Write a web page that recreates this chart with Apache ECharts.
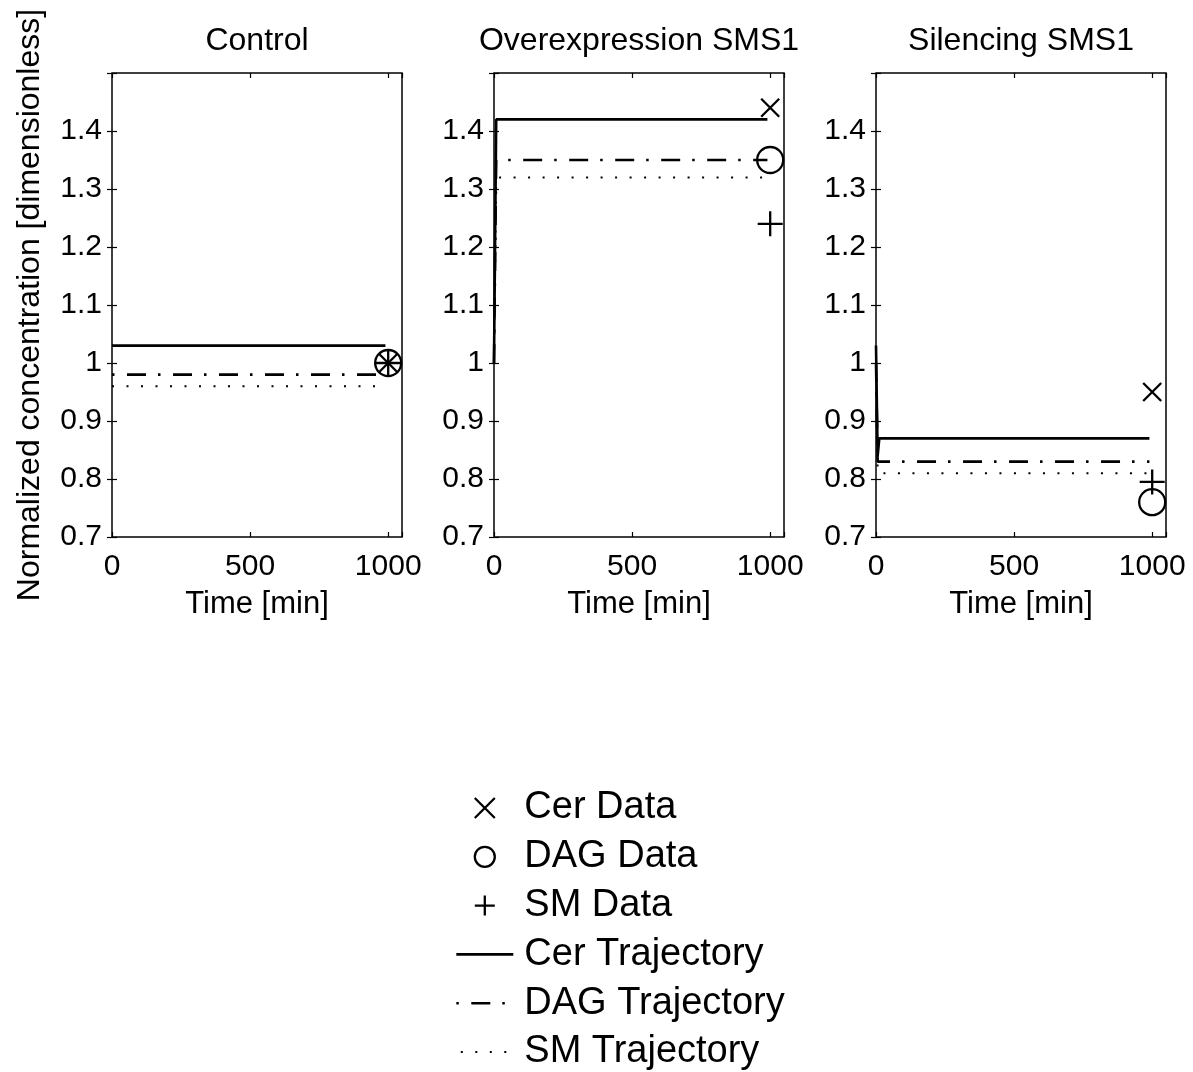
<!DOCTYPE html>
<html>
<head>
<meta charset="utf-8">
<script src="https://cdn.jsdelivr.net/npm/echarts@6/dist/echarts.min.js"></script>
<style>
  html, body { margin: 0; padding: 0; background: #fff; }
  #chart { width: 1193px; height: 1072px; }
</style>
</head>
<body>
<div id="chart"></div>
<script>
// panel titles
const panels = ['Control', 'Overexpression SMS1', 'Silencing SMS1']

// measured data, all taken at t = 1000 min
const dataTime = 1000
const cerData = [1.0, 1.44, 0.95]
const dagData = [1.0, 1.35, 0.76]
const smData = [1.0, 1.24, 0.795]

// model trajectories, one time list per panel
const trajTime = [
  [0, 990],
  [0, 8, 990],
  [0, 6, 12, 990]
]
const cerTraj = [
  [1.03, 1.03],
  [1.0, 1.42, 1.42],
  [1.03, 0.84, 0.87, 0.87]
]
const dagTraj = [
  [0.98, 0.98],
  [1.0, 1.35, 1.35],
  [1.0, 0.83, 0.83, 0.83]
]
const smTraj = [
  [0.96, 0.96],
  [1.0, 1.32, 1.32],
  [1.0, 0.81, 0.81, 0.81]
]

const xTicks = [0, 500, 1000]
const yTicks = [0.7, 0.8, 0.9, 1.0, 1.1, 1.2, 1.3, 1.4]

const FONT = "'Liberation Sans', Arial, Helvetica, sans-serif"
const gridLefts = [112, 494, 876]
const gridW = 290
const gridTop = 73
const gridH = 464

const xPath = 'path://M0,0L10,10M10,0L0,10'
const plusPath = 'path://M5,0L5,10M0,5L10,5'

const dashDot = [19, 12, 2.5, 12.5]
const dotted = [2, 12.5]
const dashPhase = [31, 0, 0]

const chart = echarts.init(document.getElementById('chart'))

const grid = []
const xAxis = []
const yAxis = []
const title = []
const series = []

const pair = (ts, vs) => ts.map((t, k) => [t, vs[k]])
const tickStyle = { show: true, inside: true, length: 5, lineStyle: { color: '#000', width: 1.2 } }

panels.forEach((name, i) => {
  grid.push({
    left: gridLefts[i], top: gridTop, width: gridW, height: gridH,
    show: true, borderColor: '#000', borderWidth: 1.5, backgroundColor: '#fff',
    containLabel: false, outerBoundsMode: 'none'
  })
  title.push({
    text: name,
    left: gridLefts[i] + gridW / 2,
    top: 25,
    textAlign: 'center',
    padding: 0,
    textStyle: { fontFamily: FONT, fontSize: 32, fontWeight: 'normal', color: '#000' }
  })
  // bottom and top x axes
  xAxis.push({
    gridIndex: i, type: 'value', min: 0, max: 1050, interval: 500,
    position: 'bottom',
    name: 'Time [min]', nameLocation: 'middle', nameGap: 52,
    nameTextStyle: { fontFamily: FONT, fontSize: 31, color: '#000' },
    axisLine: { show: false },
    axisTick: tickStyle,
    axisLabel: {
      fontFamily: FONT, fontSize: 30, color: '#000', margin: 15,
      formatter: v => (xTicks.includes(v) ? String(v) : '')
    },
    splitLine: { show: false }
  })
  xAxis.push({
    gridIndex: i, type: 'value', min: 0, max: 1050, interval: 500,
    position: 'top',
    axisLine: { show: false },
    axisTick: tickStyle,
    axisLabel: { show: false },
    splitLine: { show: false }
  })
  yAxis.push({
    gridIndex: i, type: 'value', min: 0.7, max: 1.5, interval: 0.1,
    position: 'left',
    name: i === 0 ? 'Normalized concentration [dimensionless]' : '',
    nameLocation: 'middle', nameGap: 66, nameRotate: 90,
    nameTextStyle: { fontFamily: FONT, fontSize: 32, color: '#000' },
    axisLine: { show: false },
    axisTick: tickStyle,
    axisLabel: {
      fontFamily: FONT, fontSize: 30, color: '#000', margin: 10,
      formatter: v => {
        const t = yTicks.find(y => Math.abs(y - v) < 1e-6)
        return t === undefined ? '' : String(t)
      }
    },
    splitLine: { show: false }
  })
  yAxis.push({
    gridIndex: i, type: 'value', min: 0.7, max: 1.5, interval: 0.1,
    position: 'right',
    axisLine: { show: false },
    axisTick: tickStyle,
    axisLabel: { show: false },
    splitLine: { show: false }
  })

  const xi = i * 2
  const yi = i * 2
  const lineBase = {
    type: 'line', xAxisIndex: xi, yAxisIndex: yi,
    symbol: 'none', showSymbol: false, animation: false, z: 2, silent: true,
    itemStyle: { color: '#000' }
  }
  series.push({
    ...lineBase, name: 'Cer Trajectory', data: pair(trajTime[i], cerTraj[i]),
    lineStyle: { color: '#000', width: 2.6, type: 'solid' }
  })
  series.push({
    ...lineBase, name: 'DAG Trajectory', data: pair(trajTime[i], dagTraj[i]),
    lineStyle: { color: '#000', width: 2.6, type: dashDot, dashOffset: dashPhase[i] }
  })
  series.push({
    ...lineBase, name: 'SM Trajectory', data: pair(trajTime[i], smTraj[i]),
    lineStyle: { color: '#000', width: 2, type: dotted }
  })

  const scatterBase = {
    type: 'scatter', xAxisIndex: xi, yAxisIndex: yi,
    animation: false, z: 5, silent: true,
    itemStyle: { color: 'rgba(0,0,0,0)', borderColor: '#000', borderWidth: 2.3, opacity: 1 }
  }
  series.push({ ...scatterBase, name: 'Cer Data', symbol: xPath, symbolSize: 18, data: [[dataTime, cerData[i]]] })
  series.push({ ...scatterBase, name: 'DAG Data', symbol: 'circle', symbolSize: 26, data: [[dataTime, dagData[i]]] })
  series.push({ ...scatterBase, name: 'SM Data', symbol: plusPath, symbolSize: 25, data: [[dataTime, smData[i]]] })
})

// hide the dot that line legends draw in the middle of the icon
const noDot = { color: 'rgba(0,0,0,0)', borderWidth: 0, opacity: 0 }
const markerItem = { color: 'rgba(0,0,0,0)', borderColor: '#000', borderWidth: 2.3, opacity: 1 }

const option = {
  backgroundColor: '#fff',
  animation: false,
  title,
  grid,
  xAxis,
  yAxis,
  legend: {
    orient: 'vertical',
    left: 455,
    top: 789,
    height: 300,
    padding: 0,
    itemWidth: 57,
    itemHeight: 20,
    itemGap: 10.8,
    selectedMode: false,
    textStyle: { fontFamily: FONT, fontSize: 38, color: '#000', lineHeight: 36, padding: [0, 0, 0, 6] },
    data: [
      { name: 'Cer Data', itemStyle: markerItem },
      { name: 'DAG Data', itemStyle: markerItem },
      { name: 'SM Data', itemStyle: markerItem },
      { name: 'Cer Trajectory', itemStyle: noDot, lineStyle: { width: 2.6 } },
      { name: 'DAG Trajectory', itemStyle: noDot, lineStyle: { width: 2.6, dashOffset: 31 } },
      { name: 'SM Trajectory', itemStyle: noDot, lineStyle: { width: 2, dashOffset: 10 } }
    ]
  },
  series
}

chart.setOption(option)
</script>
</body>
</html>
